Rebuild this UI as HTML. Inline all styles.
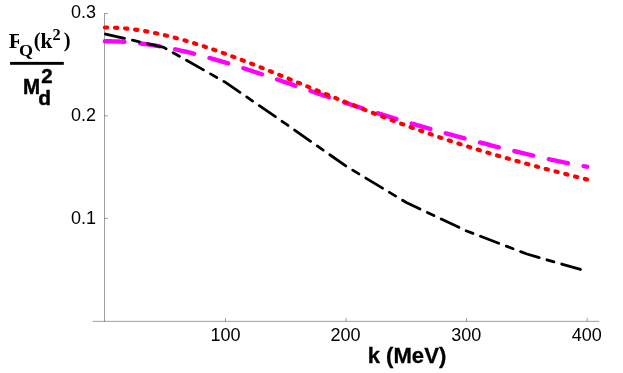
<!DOCTYPE html>
<html><head><meta charset="utf-8"><title>Plot</title>
<style>
html,body{margin:0;padding:0;background:#fff;}
body{width:623px;height:373px;overflow:hidden;position:relative;font-family:"Liberation Sans",sans-serif;color:#000;}
svg{position:absolute;left:0;top:0;}
#txt{position:absolute;left:0;top:0;width:623px;height:373px;transform:translateZ(0);}
.t{position:absolute;white-space:nowrap;line-height:1;transform-origin:0 0;}
</style></head><body>
<svg width="623" height="373" viewBox="0 0 623 373">
<g stroke="#000" stroke-width="0.38" fill="none">
<path d="M104.5 13.3V321.5"/>
<path d="M92.7 321.35H599.2"/>
<path d="M104.5 13.5H107.9 M104.5 115.85H107.9 M104.5 218.45H107.9"/>
<path d="M225.47 321.35V317.9 M346.04 321.35V317.9 M466.6 321.35V317.9 M587.17 321.35V317.9"/>
</g>
<path d="M104.90 41.21 L106.90 41.22 L108.90 41.24 L110.90 41.28 L112.90 41.33 L114.90 41.39 L116.90 41.47 L118.90 41.57 L120.90 41.67 L122.90 41.79 L124.90 41.93 L126.90 42.07 L128.90 42.23 L130.90 42.41 L132.90 42.60 L134.90 42.80 L136.90 43.01 L138.90 43.23 L140.90 43.47 L142.90 43.72 L144.90 43.98 L146.90 44.26 L148.90 44.54 L150.90 44.84 L152.90 45.15 L154.90 45.47 L156.90 45.80 L158.90 46.14 L160.90 46.49 L162.90 46.86 L164.90 47.23 L166.90 47.62 L168.90 48.01 L170.90 48.41 L172.90 48.83 L174.90 49.25 L176.90 49.68 L178.90 50.13 L180.90 50.58 L182.90 51.04 L184.90 51.51 L186.90 51.98 L188.90 52.47 L190.90 52.96 L192.90 53.46 L194.90 53.97 L196.90 54.49 L198.90 55.01 L200.90 55.54 L202.90 56.08 L204.90 56.63 L206.90 57.18 L208.90 57.74 L210.90 58.30 L212.90 58.87 L214.90 59.45 L216.90 60.03 L218.90 60.62 L220.90 61.22 L222.90 61.82 L224.90 62.42 L226.90 63.03 L228.90 63.64 L230.90 64.26 L232.90 64.88 L234.90 65.51 L236.90 66.14 L238.90 66.78 L240.90 67.42 L242.90 68.06 L244.90 68.71 L246.90 69.36 L248.90 70.01 L250.90 70.67 L252.90 71.33 L254.90 71.99 L256.90 72.65 L258.90 73.32 L260.90 73.99 L262.90 74.66 L264.90 75.33 L266.90 76.01 L268.90 76.68 L270.90 77.36 L272.90 78.04 L274.90 78.72 L276.90 79.40 L278.90 80.09 L280.90 80.77 L282.90 81.46 L284.90 82.14 L286.90 82.83 L288.90 83.52 L290.90 84.20 L292.90 84.89 L294.90 85.58 L296.90 86.27 L298.90 86.96 L300.90 87.64 L302.90 88.33 L304.90 89.02 L306.90 89.71 L308.90 90.39 L310.90 91.08 L312.90 91.76 L314.90 92.45 L316.90 93.13 L318.90 93.81 L320.90 94.49 L322.90 95.17 L324.90 95.85 L326.90 96.53 L328.90 97.21 L330.90 97.88 L332.90 98.56 L334.90 99.23 L336.90 99.90 L338.90 100.57 L340.90 101.24 L342.90 101.90 L344.90 102.57 L346.90 103.23 L348.90 103.89 L350.90 104.55 L352.90 105.21 L354.90 105.86 L356.90 106.52 L358.90 107.17 L360.90 107.81 L362.90 108.46 L364.90 109.11 L366.90 109.75 L368.90 110.39 L370.90 111.03 L372.90 111.66 L374.90 112.30 L376.90 112.93 L378.90 113.56 L380.90 114.18 L382.90 114.81 L384.90 115.43 L386.90 116.05 L388.90 116.67 L390.90 117.28 L392.90 117.89 L394.90 118.50 L396.90 119.11 L398.90 119.72 L400.90 120.32 L402.90 120.92 L404.90 121.52 L406.90 122.12 L408.90 122.71 L410.90 123.31 L412.90 123.90 L414.90 124.48 L416.90 125.07 L418.90 125.65 L420.90 126.23 L422.90 126.81 L424.90 127.39 L426.90 127.96 L428.90 128.53 L430.90 129.10 L432.90 129.67 L434.90 130.24 L436.90 130.80 L438.90 131.36 L440.90 131.92 L442.90 132.48 L444.90 133.03 L446.90 133.58 L448.90 134.14 L450.90 134.68 L452.90 135.23 L454.90 135.78 L456.90 136.32 L458.90 136.86 L460.90 137.40 L462.90 137.94 L464.90 138.47 L466.90 139.01 L468.90 139.54 L470.90 140.07 L472.90 140.60 L474.90 141.12 L476.90 141.65 L478.90 142.17 L480.90 142.69 L482.90 143.21 L484.90 143.73 L486.90 144.24 L488.90 144.75 L490.90 145.27 L492.90 145.78 L494.90 146.28 L496.90 146.79 L498.90 147.29 L500.90 147.79 L502.90 148.29 L504.90 148.79 L506.90 149.29 L508.90 149.78 L510.90 150.27 L512.90 150.76 L514.90 151.25 L516.90 151.74 L518.90 152.22 L520.90 152.70 L522.90 153.18 L524.90 153.66 L526.90 154.13 L528.90 154.60 L530.90 155.07 L532.90 155.54 L534.90 156.00 L536.90 156.46 L538.90 156.92 L540.90 157.37 L542.90 157.82 L544.90 158.27 L546.90 158.71 L548.90 159.16 L550.90 159.59 L552.90 160.03 L554.90 160.46 L556.90 160.88 L558.90 161.30 L560.90 161.72 L562.90 162.13 L564.90 162.54 L566.90 162.95 L568.90 163.34 L570.90 163.74 L572.90 164.13 L574.90 164.51 L576.90 164.89 L578.90 165.26 L580.90 165.62 L582.90 165.98 L584.90 166.33 L586.90 166.67 L587.20 166.72" fill="none" stroke="#ff00ff" stroke-width="4.4" stroke-linecap="round" stroke-linejoin="round" stroke-dasharray="19.45 15.98"/>
<path d="M104.90 33.90 L163.80 47.40 L225.50 82.40 L285.80 123.90 L346.10 166.20 L406.30 202.50 L466.60 231.00 L526.90 254.00 L581.30 269.70" fill="none" stroke="#000" stroke-width="2.8" stroke-linecap="round" stroke-linejoin="round" stroke-dasharray="19.5 8.1 7.25 8.1" stroke-dashoffset="-0.6"/>
<path d="M104.90 27.48 L106.90 27.49 L108.90 27.52 L110.90 27.57 L112.90 27.64 L114.90 27.72 L116.90 27.83 L118.90 27.95 L120.90 28.10 L122.90 28.26 L124.90 28.43 L126.90 28.63 L128.90 28.84 L130.90 29.07 L132.90 29.31 L134.90 29.57 L136.90 29.85 L138.90 30.14 L140.90 30.45 L142.90 30.77 L144.90 31.10 L146.90 31.45 L148.90 31.82 L150.90 32.19 L152.90 32.59 L154.90 32.99 L156.90 33.41 L158.90 33.84 L160.90 34.28 L162.90 34.74 L164.90 35.20 L166.90 35.68 L168.90 36.17 L170.90 36.67 L172.90 37.19 L174.90 37.71 L176.90 38.24 L178.90 38.79 L180.90 39.34 L182.90 39.91 L184.90 40.48 L186.90 41.07 L188.90 41.66 L190.90 42.26 L192.90 42.87 L194.90 43.49 L196.90 44.12 L198.90 44.75 L200.90 45.40 L202.90 46.05 L204.90 46.71 L206.90 47.37 L208.90 48.05 L210.90 48.73 L212.90 49.41 L214.90 50.11 L216.90 50.81 L218.90 51.51 L220.90 52.23 L222.90 52.94 L224.90 53.67 L226.90 54.40 L228.90 55.13 L230.90 55.87 L232.90 56.62 L234.90 57.37 L236.90 58.12 L238.90 58.88 L240.90 59.64 L242.90 60.41 L244.90 61.18 L246.90 61.96 L248.90 62.73 L250.90 63.52 L252.90 64.30 L254.90 65.09 L256.90 65.88 L258.90 66.68 L260.90 67.47 L262.90 68.27 L264.90 69.08 L266.90 69.88 L268.90 70.69 L270.90 71.50 L272.90 72.31 L274.90 73.12 L276.90 73.94 L278.90 74.75 L280.90 75.57 L282.90 76.39 L284.90 77.21 L286.90 78.03 L288.90 78.85 L290.90 79.67 L292.90 80.50 L294.90 81.32 L296.90 82.15 L298.90 82.97 L300.90 83.80 L302.90 84.62 L304.90 85.45 L306.90 86.28 L308.90 87.10 L310.90 87.93 L312.90 88.75 L314.90 89.58 L316.90 90.40 L318.90 91.23 L320.90 92.05 L322.90 92.87 L324.90 93.69 L326.90 94.51 L328.90 95.33 L330.90 96.15 L332.90 96.97 L334.90 97.78 L336.90 98.60 L338.90 99.41 L340.90 100.22 L342.90 101.03 L344.90 101.84 L346.90 102.65 L348.90 103.45 L350.90 104.26 L352.90 105.06 L354.90 105.86 L356.90 106.66 L358.90 107.45 L360.90 108.24 L362.90 109.04 L364.90 109.82 L366.90 110.61 L368.90 111.40 L370.90 112.18 L372.90 112.96 L374.90 113.73 L376.90 114.51 L378.90 115.28 L380.90 116.05 L382.90 116.82 L384.90 117.58 L386.90 118.34 L388.90 119.10 L390.90 119.85 L392.90 120.61 L394.90 121.36 L396.90 122.10 L398.90 122.85 L400.90 123.59 L402.90 124.32 L404.90 125.06 L406.90 125.79 L408.90 126.52 L410.90 127.25 L412.90 127.97 L414.90 128.69 L416.90 129.40 L418.90 130.12 L420.90 130.83 L422.90 131.53 L424.90 132.24 L426.90 132.94 L428.90 133.63 L430.90 134.33 L432.90 135.02 L434.90 135.70 L436.90 136.39 L438.90 137.07 L440.90 137.74 L442.90 138.42 L444.90 139.09 L446.90 139.75 L448.90 140.42 L450.90 141.08 L452.90 141.74 L454.90 142.39 L456.90 143.04 L458.90 143.69 L460.90 144.33 L462.90 144.97 L464.90 145.61 L466.90 146.25 L468.90 146.88 L470.90 147.50 L472.90 148.13 L474.90 148.75 L476.90 149.37 L478.90 149.98 L480.90 150.60 L482.90 151.21 L484.90 151.81 L486.90 152.41 L488.90 153.01 L490.90 153.61 L492.90 154.20 L494.90 154.80 L496.90 155.38 L498.90 155.97 L500.90 156.55 L502.90 157.13 L504.90 157.71 L506.90 158.28 L508.90 158.85 L510.90 159.42 L512.90 159.98 L514.90 160.55 L516.90 161.11 L518.90 161.66 L520.90 162.22 L522.90 162.77 L524.90 163.32 L526.90 163.87 L528.90 164.41 L530.90 164.96 L532.90 165.50 L534.90 166.03 L536.90 166.57 L538.90 167.10 L540.90 167.64 L542.90 168.17 L544.90 168.69 L546.90 169.22 L548.90 169.74 L550.90 170.26 L552.90 170.78 L554.90 171.30 L556.90 171.82 L558.90 172.33 L560.90 172.85 L562.90 173.36 L564.90 173.87 L566.90 174.38 L568.90 174.88 L570.90 175.39 L572.90 175.89 L574.90 176.40 L576.90 176.90 L578.90 177.40 L580.90 177.90 L582.90 178.40 L584.90 178.90 L586.90 179.39 L587.20 179.47" fill="none" stroke="#ff0000" stroke-width="4.15" stroke-linecap="round" stroke-linejoin="round" stroke-dasharray="2.3 7.8"/>
<rect x="10.1" y="61.9" width="53.7" height="2.9" fill="#000"/>
</svg>
<div id="txt">
<div class="t" style='left:70.97px;top:3.04px;font-family:"Liberation Sans",sans-serif;font-weight:normal;font-size:18.00px;'>0.3</div>
<div class="t" style='left:71.03px;top:106.04px;font-family:"Liberation Sans",sans-serif;font-weight:normal;font-size:18.00px;'>0.2</div>
<div class="t" style='left:70.97px;top:209.04px;font-family:"Liberation Sans",sans-serif;font-weight:normal;font-size:18.00px;'>0.1</div>
<div class="t" style='left:210.39px;top:326.04px;font-family:"Liberation Sans",sans-serif;font-weight:normal;font-size:18.00px;'>100</div>
<div class="t" style='left:330.57px;top:326.04px;font-family:"Liberation Sans",sans-serif;font-weight:normal;font-size:18.00px;'>200</div>
<div class="t" style='left:451.28px;top:326.04px;font-family:"Liberation Sans",sans-serif;font-weight:normal;font-size:18.00px;'>300</div>
<div class="t" style='left:571.79px;top:326.04px;font-family:"Liberation Sans",sans-serif;font-weight:normal;font-size:18.00px;'>400</div>
<div class="t" style='left:367.68px;top:344.95px;font-family:"Liberation Sans",sans-serif;font-weight:bold;font-size:22.10px;-webkit-text-stroke:0.30px #000;'>k (MeV)</div>
<div class="t" style='left:8.82px;top:31.00px;font-family:"Liberation Serif",serif;font-weight:bold;font-size:21.64px;width:10.08px;overflow:hidden;'>F</div>
<div class="t" style='left:19.04px;top:43.03px;font-family:"Liberation Serif",serif;font-weight:bold;font-size:16.48px;transform:scaleX(1.095);'>Q</div>
<div class="t" style='left:33.67px;top:30.01px;font-family:"Liberation Serif",serif;font-weight:bold;font-size:20.52px;'>(</div>
<div class="t" style='left:40.42px;top:31.00px;font-family:"Liberation Serif",serif;font-weight:bold;font-size:21.33px;'>k</div>
<div class="t" style='left:52.42px;top:26.95px;font-family:"Liberation Serif",serif;font-weight:bold;font-size:16.30px;'>2</div>
<div class="t" style='left:63.68px;top:30.01px;font-family:"Liberation Serif",serif;font-weight:bold;font-size:20.52px;'>)</div>
<div class="t" style='left:22.61px;top:76.03px;font-family:"Liberation Sans",sans-serif;font-weight:bold;font-size:21.75px;transform:scaleX(0.943);-webkit-text-stroke:0.45px #000;'>M</div>
<div class="t" style='left:41.24px;top:66.09px;font-family:"Liberation Sans",sans-serif;font-weight:bold;font-size:20.36px;-webkit-text-stroke:0.45px #000;'>2</div>
<div class="t" style='left:38.26px;top:87.99px;font-family:"Liberation Sans",sans-serif;font-weight:bold;font-size:20.85px;-webkit-text-stroke:0.45px #000;'>d</div>
</div>
</body></html>
